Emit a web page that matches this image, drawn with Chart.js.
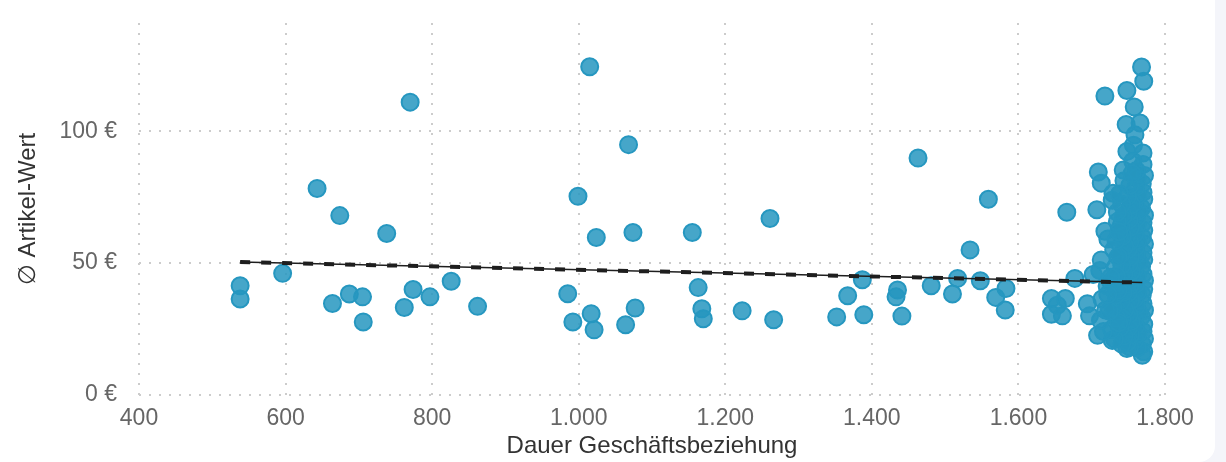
<!DOCTYPE html>
<html>
<head>
<meta charset="utf-8">
<script src="https://cdn.jsdelivr.net/npm/chart.js@4"></script>
<style>
  html, body { margin: 0; padding: 0; width: 1226px; height: 462px; overflow: hidden; background: #f4f5fa; }
  #card { position: absolute; left: -20px; top: -20px; width: 1235px; height: 482px; background: #fff; border-radius: 16px; }
  #wrap { position: absolute; left: 0; top: 0; width: 1226px; height: 462px; }
</style>
</head>
<body>
<div id="card"></div>
<div id="wrap"><canvas id="chart"></canvas></div>
<script>
// Dauer Geschäftsbeziehung (x) and Ø Artikel-Wert (y), one entry per customer
const dauer = [
  538, 538, 596, 643, 664, 674, 687, 705, 706, 738, 762, 770, 774, 797, 826, 862,
  985, 992, 999, 1015, 1017, 1021, 1024, 1064, 1068, 1074, 1077, 1155, 1163, 1168, 1170,
  1223, 1261, 1266, 1352, 1367, 1387, 1389, 1433, 1435, 1441, 1463, 1481, 1510, 1517,
  1534, 1548, 1559, 1569, 1582, 1583,
  1645, 1645, 1653, 1660, 1664, 1666, 1677, 1694, 1697, 1702, 1707, 1708, 1709, 1713,
  1713, 1718, 1722, 1728, 1729, 1743, 1747, 1748, 1748, 1748, 1758, 1759, 1766, 1770,
  1768, 1771, 1769,
  1771, 1769, 1772, 1770, 1771, 1768, 1772, 1770, 1769, 1771, 1772, 1770, 1768, 1771,
  1770, 1772, 1769, 1771, 1770, 1772, 1768, 1771, 1770, 1769, 1772, 1770,
  1762, 1759, 1763, 1760, 1758, 1764, 1761, 1759, 1763, 1760, 1762, 1758, 1764, 1761,
  1760, 1763, 1759, 1762, 1761, 1764, 1758, 1763, 1760, 1762, 1761,
  1752, 1749, 1753, 1750, 1754, 1751, 1748, 1753, 1750, 1752, 1749, 1754, 1751, 1753,
  1750, 1752, 1748, 1753, 1751, 1750, 1754, 1749, 1752,
  1741, 1744, 1739, 1742, 1745, 1740, 1743, 1738, 1744, 1741, 1739, 1745, 1742, 1740,
  1743, 1741, 1744,
  1731, 1727, 1734, 1729, 1733, 1726, 1732, 1730, 1735, 1728,
  1716, 1712, 1719, 1714, 1721, 1711, 1718,
  1736, 1733, 1737, 1735, 1738, 1734, 1736, 1737, 1724, 1726, 1722, 1756, 1757, 1755
];
const artikelWert = [
  41.4, 36.4, 46.1, 78.3, 34.7, 68.0, 38.3, 37.2, 27.7, 61.2, 33.2, 111.0, 40.0, 37.2, 43.1, 33.6,
  38.4, 27.7, 75.3, 124.4, 30.8, 24.7, 59.7, 26.6, 94.9, 61.6, 33.0, 61.6, 40.7, 32.7, 28.9,
  31.9, 66.9, 28.5, 29.6, 37.6, 43.7, 30.4, 37.2, 39.8, 29.9, 89.8, 41.4, 38.3, 44.2,
  55.0, 43.3, 74.2, 37.0, 32.2, 40.4,
  36.6, 30.6, 34.0, 30.0, 36.6, 69.3, 44.2, 34.6, 30.0, 45.7, 70.2, 22.6, 84.5, 80.3,
  51.2, 113.3, 59.1, 20.7, 76.5, 85.3, 102.5, 115.4, 92.3, 17.6, 109.2, 98.6, 103.1, 91.7,
  124.3, 118.9, 15.1,
  16.4, 19.2, 21.3, 24.1, 26.8, 29.7, 32.1, 34.6, 37.9, 40.2, 43.4, 45.8, 48.7, 51.3,
  53.9, 57.2, 59.8, 62.4, 65.3, 68.1, 70.9, 74.2, 76.8, 80.1, 83.2, 87.4,
  17.9, 20.8, 23.2, 26.1, 28.7, 31.4, 33.8, 36.7, 39.3, 42.1, 44.9, 47.6, 50.4, 53.2,
  56.1, 58.7, 61.3, 64.2, 67.1, 69.8, 72.9, 75.6, 78.8, 82.3, 85.1,
  18.2, 20.1, 22.7, 25.3, 27.9, 30.6, 33.4, 35.8, 38.7, 41.3, 44.1, 46.8, 49.6, 52.3,
  55.2, 58.1, 60.7, 63.6, 66.4, 69.2, 72.1, 75.3, 79.4,
  19.3, 22.4, 25.6, 28.9, 32.3, 35.4, 38.8, 42.6, 45.9, 49.3, 53.1, 56.4, 60.2, 64.1,
  67.8, 72.3, 81.2,
  21.2, 24.8, 29.1, 33.4, 37.9, 42.8, 48.3, 55.1, 65.7, 73.8,
  24.1, 28.3, 32.2, 36.4, 41.3, 47.2, 62.1,
  52.4, 58.6, 61.9, 69.3, 76.2, 45.1, 39.7, 27.4, 31.8, 44.6, 38.1, 88.6, 94.7, 83.9
];

// regression line endpoints
const trendX = [538, 1769];
const trendY = [50.4, 42.6];

const xTicks = [400, 600, 800, 1000, 1200, 1400, 1600, 1800];
const yTicks = [0, 50, 100];

const points = dauer.map((x, i) => ({ x: x, y: artikelWert[i] }));
const trend = trendX.map((x, i) => ({ x: x, y: trendY[i] }));

const fmt = v => String(v).replace(/\B(?=(\d{3})+(?!\d))/g, '.');
const font = 'Liberation Sans, Arial, Helvetica, sans-serif';

const ctx = document.getElementById('chart').getContext('2d');
const mychart = new Chart(ctx, {
  type: 'scatter',
  data: {
    datasets: [{
      type: 'line',
      data: trend,
      borderColor: '#1e1e1e',
      borderWidth: 4,
      borderDash: [10, 11],
      pointRadius: 0,
      fill: false
    }, {
      type: 'line',
      data: trend,
      borderColor: '#1e1e1e',
      borderWidth: 1.5,
      pointRadius: 0,
      fill: false
    }, {
      data: points,
      backgroundColor: 'rgba(38, 151, 192, 0.85)',
      borderColor: '#2697c0',
      borderWidth: 2,
      pointRadius: 8.5,
      pointHoverRadius: 8.5
    }]
  },
  options: {
    responsive: true,
    maintainAspectRatio: false,
    animation: false,
    layout: { padding: { left: 0, right: 61, top: 23, bottom: 0 } },
    plugins: { legend: { display: false }, tooltip: { enabled: false } },
    scales: {
      x: {
        type: 'linear',
        min: 400,
        max: 1800,
        afterBuildTicks: axis => { axis.ticks = xTicks.map(v => ({ value: v })); },
        afterFit: axis => { axis.height = 67; },
        grid: { color: '#cccccc', lineWidth: 2, drawTicks: false },
        border: { display: false, dash: [2, 8] },
        ticks: { padding: 10, color: '#666666', font: { family: font, size: 23 }, callback: v => fmt(v) },
        title: { display: true, text: 'Dauer Geschäftsbeziehung', color: '#333333', padding: { top: 0, bottom: 1 },
                 font: { family: font, size: 24 } }
      },
      y: {
        min: 0,
        max: 141,
        afterBuildTicks: axis => { axis.ticks = yTicks.map(v => ({ value: v })); },
        afterFit: axis => { axis.width = 139; axis.paddingTop = 0; axis.paddingBottom = 0; },
        grid: { color: '#cccccc', lineWidth: 2, drawTicks: false },
        border: { display: false, dash: [2, 8] },
        ticks: { padding: 22, color: '#666666', font: { family: font, size: 23 }, callback: v => v + ' €' },
        title: { display: true, text: '∅ Artikel-Wert', color: '#333333', padding: { top: 14, bottom: 0 },
                 font: { family: font, size: 24 } }
      }
    }
  }
});
</script>
</body>
</html>
